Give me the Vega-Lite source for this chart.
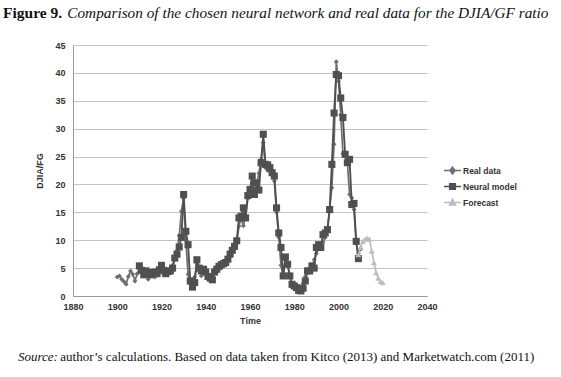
{
  "$schema": "https://vega.github.io/schema/vega-lite/v6.json",
  "background": "white",
  "padding": {"left": 3, "top": 5, "right": 0, "bottom": 0},
  "title": {
    "text": "Source:",
    "orient": "bottom",
    "anchor": "start",
    "frame": "bounds",
    "font": "Liberation Serif",
    "fontSize": 13,
    "fontStyle": "italic",
    "fontWeight": "normal",
    "color": "#111111",
    "subtitle": "\u200b\u00a0\u00a0\u00a0\u00a0\u00a0\u00a0\u00a0\u00a0\u00a0\u00a0\u00a0\u00a0\u00a0author’s calculations. Based on data taken from Kitco (2013) and Marketwatch.com (2011)",
    "subtitleFont": "Liberation Serif",
    "subtitleFontSize": 13,
    "subtitleFontStyle": "normal",
    "subtitleFontWeight": "normal",
    "subtitleColor": "#111111",
    "subtitlePadding": -13,
    "offset": 26,
    "dx": 15
  },
  "datasets": {
    "d": [
      {"year":1900,"value":3.4,"series":"Real data"},{"year":1901,"value":3.6,"series":"Real data"},{"year":1902,"value":3.0,"series":"Real data"},{"year":1903,"value":2.6,"series":"Real data"},{"year":1904,"value":2.1,"series":"Real data"},{"year":1905,"value":3.5,"series":"Real data"},{"year":1906,"value":4.5,"series":"Real data"},{"year":1907,"value":3.9,"series":"Real data"},{"year":1908,"value":2.7,"series":"Real data"},{"year":1909,"value":4.0,"series":"Real data"},
      {"year":1910,"value":4.8,"series":"Real data"},{"year":1911,"value":4.4,"series":"Real data"},{"year":1912,"value":4.3,"series":"Real data"},{"year":1913,"value":3.6,"series":"Real data"},{"year":1914,"value":3.0,"series":"Real data"},{"year":1915,"value":3.6,"series":"Real data"},{"year":1916,"value":4.4,"series":"Real data"},{"year":1917,"value":3.4,"series":"Real data"},{"year":1918,"value":3.8,"series":"Real data"},{"year":1919,"value":4.4,"series":"Real data"},
      {"year":1920,"value":5.0,"series":"Real data"},{"year":1921,"value":3.8,"series":"Real data"},{"year":1922,"value":4.2,"series":"Real data"},{"year":1923,"value":4.2,"series":"Real data"},{"year":1924,"value":4.6,"series":"Real data"},{"year":1925,"value":5.5,"series":"Real data"},{"year":1926,"value":6.6,"series":"Real data"},{"year":1927,"value":8.1,"series":"Real data"},{"year":1928,"value":10.8,"series":"Real data"},{"year":1929,"value":15.2,"series":"Real data"},
      {"year":1930,"value":17.5,"series":"Real data"},{"year":1931,"value":10.0,"series":"Real data"},{"year":1932,"value":3.9,"series":"Real data"},{"year":1933,"value":2.2,"series":"Real data"},{"year":1934,"value":1.9,"series":"Real data"},{"year":1935,"value":3.4,"series":"Real data"},{"year":1936,"value":5.8,"series":"Real data"},{"year":1937,"value":4.6,"series":"Real data"},{"year":1938,"value":3.6,"series":"Real data"},{"year":1939,"value":4.4,"series":"Real data"},
      {"year":1940,"value":4.0,"series":"Real data"},{"year":1941,"value":3.2,"series":"Real data"},{"year":1942,"value":2.8,"series":"Real data"},{"year":1943,"value":3.6,"series":"Real data"},{"year":1944,"value":4.4,"series":"Real data"},{"year":1945,"value":5.2,"series":"Real data"},{"year":1946,"value":5.0,"series":"Real data"},{"year":1947,"value":5.1,"series":"Real data"},{"year":1948,"value":5.4,"series":"Real data"},{"year":1949,"value":5.9,"series":"Real data"},
      {"year":1950,"value":6.4,"series":"Real data"},{"year":1951,"value":7.2,"series":"Real data"},{"year":1952,"value":7.8,"series":"Real data"},{"year":1953,"value":8.5,"series":"Real data"},{"year":1954,"value":9.6,"series":"Real data"},{"year":1955,"value":12.5,"series":"Real data"},{"year":1956,"value":14.0,"series":"Real data"},{"year":1957,"value":12.6,"series":"Real data"},{"year":1958,"value":14.3,"series":"Real data"},{"year":1959,"value":17.5,"series":"Real data"},
      {"year":1960,"value":18.6,"series":"Real data"},{"year":1961,"value":20.5,"series":"Real data"},{"year":1962,"value":18.0,"series":"Real data"},{"year":1963,"value":20.0,"series":"Real data"},{"year":1964,"value":22.0,"series":"Real data"},{"year":1965,"value":24.5,"series":"Real data"},{"year":1966,"value":27.5,"series":"Real data"},{"year":1967,"value":23.0,"series":"Real data"},{"year":1968,"value":22.5,"series":"Real data"},{"year":1969,"value":23.0,"series":"Real data"},
      {"year":1970,"value":22.0,"series":"Real data"},{"year":1971,"value":20.6,"series":"Real data"},{"year":1972,"value":15.0,"series":"Real data"},{"year":1973,"value":10.5,"series":"Real data"},{"year":1974,"value":5.5,"series":"Real data"},{"year":1975,"value":3.5,"series":"Real data"},{"year":1976,"value":6.4,"series":"Real data"},{"year":1977,"value":5.6,"series":"Real data"},{"year":1978,"value":3.6,"series":"Real data"},{"year":1979,"value":2.0,"series":"Real data"},
      {"year":1980,"value":1.5,"series":"Real data"},{"year":1981,"value":1.6,"series":"Real data"},{"year":1982,"value":1.2,"series":"Real data"},{"year":1983,"value":1.5,"series":"Real data"},{"year":1984,"value":2.3,"series":"Real data"},{"year":1985,"value":3.5,"series":"Real data"},{"year":1986,"value":4.3,"series":"Real data"},{"year":1987,"value":4.8,"series":"Real data"},{"year":1988,"value":5.2,"series":"Real data"},{"year":1989,"value":6.5,"series":"Real data"},
      {"year":1990,"value":7.6,"series":"Real data"},{"year":1991,"value":8.4,"series":"Real data"},{"year":1992,"value":9.2,"series":"Real data"},{"year":1993,"value":9.6,"series":"Real data"},{"year":1994,"value":10.5,"series":"Real data"},{"year":1995,"value":12.0,"series":"Real data"},{"year":1996,"value":15.5,"series":"Real data"},{"year":1997,"value":19.4,"series":"Real data"},{"year":1998,"value":27.2,"series":"Real data"},{"year":1999,"value":42.0,"series":"Real data"},
      {"year":2000,"value":38.5,"series":"Real data"},{"year":2001,"value":32.5,"series":"Real data"},{"year":2002,"value":25.5,"series":"Real data"},{"year":2003,"value":25.0,"series":"Real data"},{"year":2004,"value":24.0,"series":"Real data"},{"year":2005,"value":18.2,"series":"Real data"},{"year":2006,"value":17.6,"series":"Real data"},{"year":2007,"value":15.5,"series":"Real data"},{"year":2008,"value":9.5,"series":"Real data"},{"year":2009,"value":7.6,"series":"Real data"},{"year":2010,"value":8.4,"series":"Real data"},

      {"year":1910,"value":5.4,"series":"Neural model"},{"year":1911,"value":4.6,"series":"Neural model"},{"year":1912,"value":3.8,"series":"Neural model"},{"year":1913,"value":4.5,"series":"Neural model"},{"year":1914,"value":4.2,"series":"Neural model"},{"year":1915,"value":3.8,"series":"Neural model"},{"year":1916,"value":4.2,"series":"Neural model"},{"year":1917,"value":4.3,"series":"Neural model"},{"year":1918,"value":4.0,"series":"Neural model"},{"year":1919,"value":4.7,"series":"Neural model"},
      {"year":1920,"value":5.5,"series":"Neural model"},{"year":1921,"value":4.6,"series":"Neural model"},{"year":1922,"value":4.0,"series":"Neural model"},{"year":1923,"value":4.4,"series":"Neural model"},{"year":1924,"value":4.5,"series":"Neural model"},{"year":1925,"value":5.0,"series":"Neural model"},{"year":1926,"value":6.8,"series":"Neural model"},{"year":1927,"value":7.5,"series":"Neural model"},{"year":1928,"value":8.8,"series":"Neural model"},{"year":1929,"value":10.5,"series":"Neural model"},
      {"year":1930,"value":18.2,"series":"Neural model"},{"year":1931,"value":11.6,"series":"Neural model"},{"year":1932,"value":9.2,"series":"Neural model"},{"year":1933,"value":2.7,"series":"Neural model"},{"year":1934,"value":1.6,"series":"Neural model"},{"year":1935,"value":2.4,"series":"Neural model"},{"year":1936,"value":6.5,"series":"Neural model"},{"year":1937,"value":5.0,"series":"Neural model"},{"year":1938,"value":4.5,"series":"Neural model"},{"year":1939,"value":4.8,"series":"Neural model"},
      {"year":1940,"value":4.3,"series":"Neural model"},{"year":1941,"value":3.5,"series":"Neural model"},{"year":1942,"value":3.2,"series":"Neural model"},{"year":1943,"value":2.9,"series":"Neural model"},{"year":1944,"value":4.3,"series":"Neural model"},{"year":1945,"value":4.8,"series":"Neural model"},{"year":1946,"value":5.3,"series":"Neural model"},{"year":1947,"value":5.6,"series":"Neural model"},{"year":1948,"value":5.8,"series":"Neural model"},{"year":1949,"value":6.0,"series":"Neural model"},
      {"year":1950,"value":6.6,"series":"Neural model"},{"year":1951,"value":7.5,"series":"Neural model"},{"year":1952,"value":8.2,"series":"Neural model"},{"year":1953,"value":8.9,"series":"Neural model"},{"year":1954,"value":9.9,"series":"Neural model"},{"year":1955,"value":14.0,"series":"Neural model"},{"year":1956,"value":14.3,"series":"Neural model"},{"year":1957,"value":15.8,"series":"Neural model"},{"year":1958,"value":14.0,"series":"Neural model"},{"year":1959,"value":18.0,"series":"Neural model"},
      {"year":1960,"value":19.1,"series":"Neural model"},{"year":1961,"value":21.5,"series":"Neural model"},{"year":1962,"value":18.2,"series":"Neural model"},{"year":1963,"value":20.3,"series":"Neural model"},{"year":1964,"value":19.0,"series":"Neural model"},{"year":1965,"value":23.9,"series":"Neural model"},{"year":1966,"value":29.0,"series":"Neural model"},{"year":1967,"value":23.6,"series":"Neural model"},{"year":1968,"value":23.5,"series":"Neural model"},{"year":1969,"value":23.0,"series":"Neural model"},
      {"year":1970,"value":22.1,"series":"Neural model"},{"year":1971,"value":21.5,"series":"Neural model"},{"year":1972,"value":15.8,"series":"Neural model"},{"year":1973,"value":11.3,"series":"Neural model"},{"year":1974,"value":8.7,"series":"Neural model"},{"year":1975,"value":3.6,"series":"Neural model"},{"year":1976,"value":7.0,"series":"Neural model"},{"year":1977,"value":5.7,"series":"Neural model"},{"year":1978,"value":3.6,"series":"Neural model"},{"year":1979,"value":2.1,"series":"Neural model"},
      {"year":1980,"value":1.8,"series":"Neural model"},{"year":1981,"value":1.5,"series":"Neural model"},{"year":1982,"value":1.0,"series":"Neural model"},{"year":1983,"value":0.9,"series":"Neural model"},{"year":1984,"value":1.4,"series":"Neural model"},{"year":1985,"value":2.7,"series":"Neural model"},{"year":1986,"value":4.5,"series":"Neural model"},{"year":1987,"value":4.5,"series":"Neural model"},{"year":1988,"value":5.4,"series":"Neural model"},{"year":1989,"value":5.0,"series":"Neural model"},
      {"year":1990,"value":8.7,"series":"Neural model"},{"year":1991,"value":9.2,"series":"Neural model"},{"year":1992,"value":8.7,"series":"Neural model"},{"year":1993,"value":11.0,"series":"Neural model"},{"year":1994,"value":11.3,"series":"Neural model"},{"year":1995,"value":11.9,"series":"Neural model"},{"year":1996,"value":15.5,"series":"Neural model"},{"year":1997,"value":23.6,"series":"Neural model"},{"year":1998,"value":32.8,"series":"Neural model"},{"year":1999,"value":39.7,"series":"Neural model"},
      {"year":2000,"value":39.5,"series":"Neural model"},{"year":2001,"value":35.5,"series":"Neural model"},{"year":2002,"value":32.0,"series":"Neural model"},{"year":2003,"value":25.4,"series":"Neural model"},{"year":2004,"value":23.9,"series":"Neural model"},{"year":2005,"value":24.5,"series":"Neural model"},{"year":2006,"value":16.4,"series":"Neural model"},{"year":2007,"value":16.6,"series":"Neural model"},{"year":2008,"value":9.8,"series":"Neural model"},{"year":2009,"value":6.7,"series":"Neural model"},

      {"year":2009,"value":7.4,"series":"Forecast"},{"year":2010,"value":8.8,"series":"Forecast"},{"year":2011,"value":9.8,"series":"Forecast"},{"year":2012,"value":10.2,"series":"Forecast"},{"year":2013,"value":10.4,"series":"Forecast"},{"year":2014,"value":10.2,"series":"Forecast"},{"year":2015,"value":8.1,"series":"Forecast"},{"year":2016,"value":6.0,"series":"Forecast"},{"year":2017,"value":4.2,"series":"Forecast"},{"year":2018,"value":3.2,"series":"Forecast"},{"year":2019,"value":2.6,"series":"Forecast"},{"year":2020,"value":2.4,"series":"Forecast"}
    ]
  },
  "resolve": {"scale": {"color": "independent", "shape": "independent"}, "legend": {"color": "independent", "shape": "independent"}},
  "vconcat": [
    {
      "width": 354,
      "height": 251,
      "title": {
        "text": "Figure 9.",
        "anchor": "start",
        "frame": "group",
        "dx": -70,
        "offset": 20,
        "font": "Liberation Serif",
        "fontSize": 15.5,
        "fontWeight": "bold",
        "fontStyle": "normal",
        "color": "#111111",
        "subtitle": "\u200b\u00a0\u00a0\u00a0\u00a0\u00a0\u00a0\u00a0\u00a0\u00a0\u00a0\u00a0\u00a0\u00a0\u00a0\u00a0\u00a0\u2009Comparison of the chosen neural network and real data for the DJIA/GF ratio",
        "subtitleFont": "Liberation Serif",
        "subtitleFontSize": 15.3,
        "subtitleFontStyle": "italic",
        "subtitleFontWeight": "normal",
        "subtitleColor": "#111111",
        "subtitlePadding": -15.4
      },
      "data": {"name": "d"},
      "encoding": {
        "x": {
          "field": "year", "type": "quantitative",
          "scale": {"domain": [1880, 2040], "nice": false, "zero": false},
          "axis": {"values": [1880, 1900, 1920, 1940, 1960, 1980, 2000, 2020, 2040], "format": "d", "title": "Time", "grid": false, "ticks": false, "labelPadding": 6, "titlePadding": 5}
        },
        "y": {
          "field": "value", "type": "quantitative",
          "scale": {"domain": [0, 45], "nice": false},
          "axis": {"values": [0, 5, 10, 15, 20, 25, 30, 35, 40, 45], "title": "DJIA/FG", "grid": true, "ticks": false, "labelPadding": 8, "titlePadding": 10}
        },
        "color": {
          "field": "series", "type": "nominal",
          "scale": {"domain": ["Real data", "Neural model", "Forecast"], "range": ["#6f6f6f", "#505050", "#bdbdbd"]},
          "legend": {
            "orient": "none", "legendX": 370, "legendY": 116, "title": null,
            "labelFont": "Liberation Sans", "labelFontSize": 8.5, "labelFontWeight": "bold", "labelColor": "#333333",
            "symbolSize": 289, "rowPadding": 0, "labelOffset": 1,
            "encode": {
              "symbols": {
                "update": {
                  "shape": {"signal": "datum.value === 'Real data' ? 'M-1,0H1M0,-0.4L0.3,0L0,0.4L-0.3,0Z' : datum.value === 'Neural model' ? 'M-1,0H1M-0.33,-0.33H0.33V0.33H-0.33Z' : 'M-1,0H1M0,-0.36L0.36,0.3H-0.36Z'"},
                  "stroke": {"scale": "color", "field": "value"},
                  "fill": {"scale": "color", "field": "value"},
                  "strokeWidth": {"value": 1.5},
                  "opacity": {"value": 1}
                }
              }
            }
          }
        }
      },
      "layer": [
        {"transform": [{"filter": "datum.series === 'Real data'"}], "mark": {"type": "line", "strokeWidth": 1.7}},
        {"transform": [{"filter": "datum.series === 'Real data'"}], "mark": {"type": "point", "filled": true, "shape": "diamond", "size": 24, "opacity": 1}},
        {"transform": [{"filter": "datum.series === 'Neural model'"}], "mark": {"type": "line", "strokeWidth": 1.9}},
        {"transform": [{"filter": "datum.series === 'Neural model'"}], "mark": {"type": "point", "filled": true, "shape": "square", "size": 50, "opacity": 1}},
        {"transform": [{"filter": "datum.series === 'Forecast'"}], "mark": {"type": "line", "strokeWidth": 1.7}},
        {"transform": [{"filter": "datum.series === 'Forecast'"}], "mark": {"type": "point", "filled": true, "shape": "triangle-up", "size": 36, "opacity": 1}}
      ]
    }
  ],
  "config": {
    "view": {"stroke": null},
    "axis": {
      "labelFont": "Liberation Sans", "labelFontSize": 9, "labelFontWeight": "bold", "labelColor": "#333333",
      "titleFont": "Liberation Sans", "titleFontSize": 9, "titleFontWeight": "bold", "titleColor": "#333333",
      "domainColor": "#9a9a9a", "gridColor": "#c4c4c4", "labelFlush": false
    }
  }
}
